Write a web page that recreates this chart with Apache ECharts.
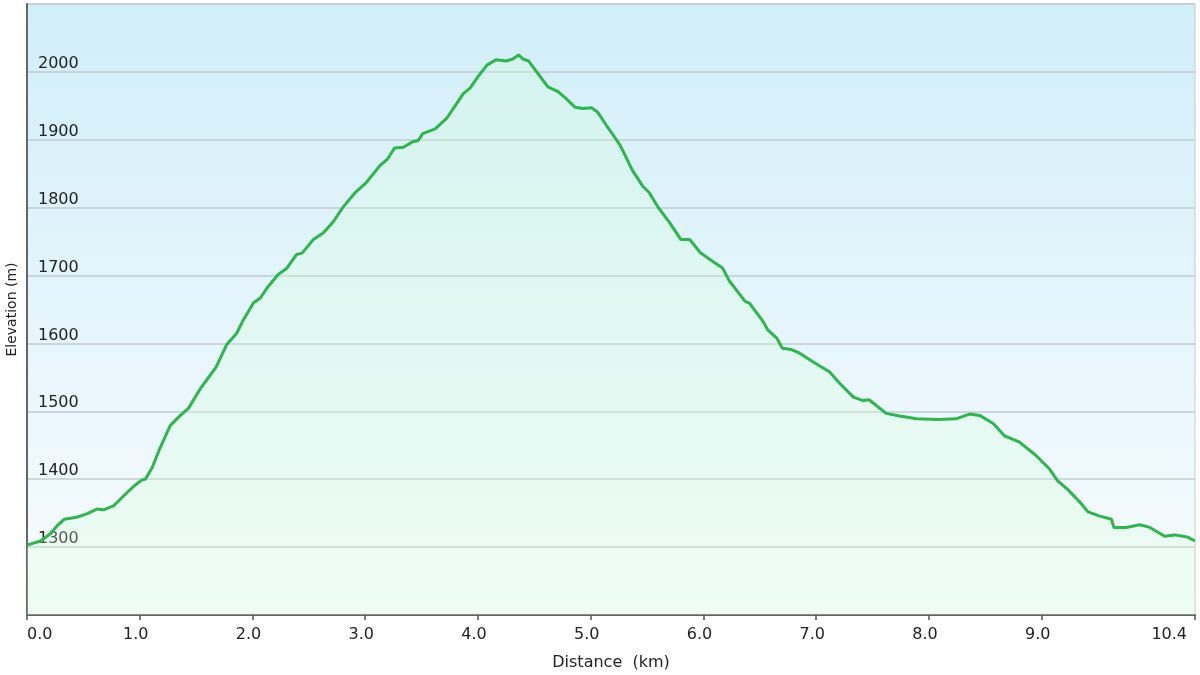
<!DOCTYPE html>
<html>
<head>
<meta charset="utf-8">
<script src="https://cdn.jsdelivr.net/npm/echarts@6/dist/echarts.min.js"></script>
<style>
html,body{margin:0;padding:0;background:#fff;}
#chart{width:1200px;height:675px;}
</style>
</head>
<body>
<div id="chart"></div>
<script>
const distanceKm = [0.00,0.12,0.21,0.27,0.33,0.44,0.53,0.62,0.68,0.77,0.86,0.95,1.02,1.05,1.11,1.17,1.21,1.27,1.36,1.43,1.54,1.68,1.77,1.86,1.92,2.01,2.07,2.13,2.23,2.30,2.39,2.44,2.54,2.63,2.72,2.80,2.91,3.01,3.13,3.20,3.26,3.34,3.42,3.47,3.51,3.62,3.72,3.79,3.87,3.93,4.00,4.08,4.16,4.25,4.31,4.36,4.40,4.45,4.53,4.62,4.71,4.78,4.86,4.93,5.01,5.06,5.14,5.17,5.26,5.30,5.37,5.46,5.52,5.60,5.70,5.80,5.88,5.97,6.08,6.17,6.23,6.37,6.41,6.53,6.57,6.65,6.70,6.78,6.85,6.97,7.12,7.21,7.33,7.41,7.47,7.62,7.74,7.89,8.09,8.24,8.36,8.45,8.57,8.67,8.80,8.95,9.07,9.14,9.23,9.33,9.41,9.51,9.62,9.64,9.75,9.87,9.96,10.09,10.18,10.29,10.36];
const elevationM = [1303,1309,1320,1332,1341,1344,1349,1356,1355,1361,1376,1390,1399,1400,1417,1442,1457,1479,1494,1504,1534,1566,1598,1615,1635,1660,1667,1682,1702,1710,1731,1733,1753,1763,1780,1800,1822,1837,1862,1872,1888,1889,1897,1899,1909,1916,1931,1948,1968,1976,1993,2010,2018,2016,2019,2025,2019,2016,1998,1978,1971,1961,1948,1946,1947,1941,1921,1914,1892,1879,1855,1832,1822,1800,1778,1753,1753,1734,1721,1711,1692,1662,1659,1632,1620,1608,1593,1591,1586,1573,1558,1541,1521,1516,1517,1497,1493,1489,1488,1489,1496,1494,1482,1464,1455,1435,1415,1398,1385,1368,1352,1346,1341,1329,1329,1333,1329,1316,1318,1315,1309];
const xTickValues = [0,1,2,3,4,5,6,7,8,9,10.36];
const yLabelValues = [1300,1400,1500,1600,1700,1800,1900,2000];

const points = distanceKm.map((d, i) => [d, elevationM[i]]);
const FONT = 'DejaVu Sans';

const chart = echarts.init(document.getElementById('chart'), null, {renderer: 'canvas'});
chart.setOption({
  animation: false,
  backgroundColor: '#ffffff',
  grid: {
    left: 27, right: 5, top: 4, bottom: 60,
    containLabel: false,
    outerBoundsMode: 'none',
    show: true,
    borderColor: '#c9c9c9',
    borderWidth: 1,
    backgroundColor: {
      type: 'linear', x: 0, y: 0, x2: 0, y2: 1,
      colorStops: [{offset: 0, color: '#d1eef9'}, {offset: 1, color: '#f8fcff'}]
    }
  },
  xAxis: {
    type: 'value',
    min: 0,
    max: 10.36,
    name: 'Distance  (km)',
    nameLocation: 'middle',
    nameGap: 40,
    nameTextStyle: {fontFamily: FONT, fontSize: 16, color: '#222'},
    axisLine: {show: true, lineStyle: {color: '#666', width: 2}},
    axisTick: {show: true, customValues: xTickValues, length: 5, lineStyle: {color: '#555', width: 1.5}},
    axisLabel: {
      customValues: xTickValues,
      formatter: v => v.toFixed(1),
      fontFamily: FONT, fontSize: 16, color: '#222', margin: 12,
      alignMinLabel: 'left', alignMaxLabel: 'right',
      padding: [0, 8, 0, 0]
    },
    splitLine: {show: false}
  },
  yAxis: {
    type: 'value',
    min: 1200,
    max: 2100,
    interval: 100,
    name: 'Elevation (m)',
    nameLocation: 'middle',
    nameRotate: 90,
    nameGap: 8,
    nameTextStyle: {fontFamily: FONT, fontSize: 14, color: '#222'},
    axisLine: {show: true, lineStyle: {color: '#666', width: 2}},
    axisTick: {show: false},
    axisLabel: {
      inside: true,
      customValues: yLabelValues,
      formatter: v => String(v),
      verticalAlign: 'bottom',
      margin: 11,
      fontFamily: FONT, fontSize: 16, color: '#222'
    },
    splitLine: {show: true, lineStyle: {color: '#c2cbd0', width: 1.5}}
  },
  series: [{
    type: 'line',
    data: points,
    showSymbol: false,
    smooth: false,
    lineStyle: {color: '#2db64d', width: 3},
    itemStyle: {color: '#2db64d'},
    areaStyle: {origin: 'start', color: 'rgba(215,255,215,0.38)'},
    z: 3
  }]
});
</script>
</body>
</html>
